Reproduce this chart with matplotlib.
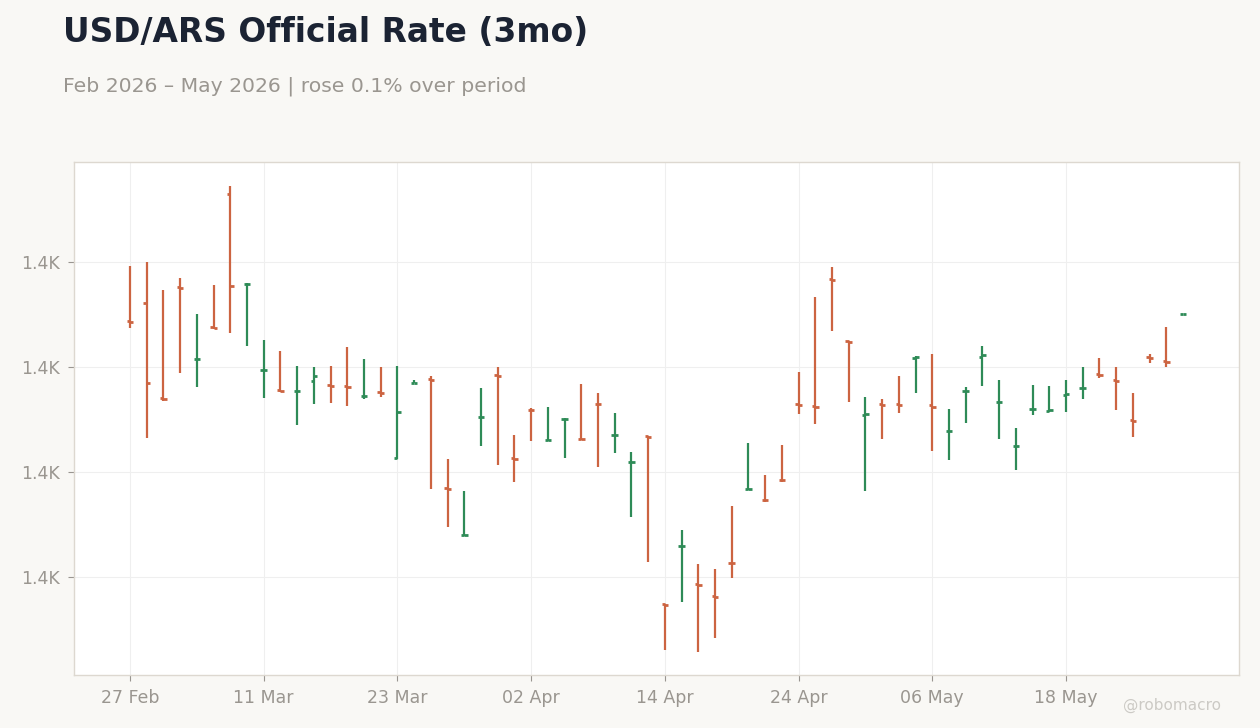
import matplotlib
matplotlib.use("Agg")
import matplotlib.pyplot as plt
from matplotlib.ticker import FuncFormatter, FixedLocator
import pandas as pd
import numpy as np

# ---- data (business days from 27 Feb 2026) ----
dates = pd.bdate_range("2026-02-27", periods=64)

opens = [1428.76, 1432.25, 1414.10, 1435.14, 1421.47, 1427.52, 1453.01, 1435.71,
         1419.43, 1415.52, 1415.40, 1417.39, 1416.63, 1416.29, 1414.48, 1415.14,
         1402.72, 1416.95, 1417.62, 1396.86, 1388.00, 1410.48, 1418.38, 1402.57,
         1411.87, 1406.04, 1410.00, 1406.34, 1412.95, 1407.01, 1401.81, 1406.76,
         1374.76, 1385.90, 1378.57, 1376.29, 1382.67, 1396.72, 1394.72, 1398.53,
         1412.86, 1412.48, 1436.67, 1424.86, 1410.91, 1412.86, 1412.91, 1421.71,
         1412.76, 1407.71, 1415.37, 1421.96, 1413.30, 1404.91, 1412.00, 1411.68,
         1414.72, 1416.00, 1418.57, 1417.47, 1409.81, 1421.81, 1421.05, 1430.15]
highs = [1439.24, 1440.00, 1434.67, 1436.95, 1430.10, 1435.62, 1454.48, 1435.94,
         1425.14, 1423.05, 1420.19, 1420.00, 1420.19, 1423.81, 1421.52, 1420.00,
         1420.19, 1417.47, 1418.29, 1402.48, 1396.38, 1416.00, 1420.06, 1407.05,
         1412.13, 1412.38, 1410.23, 1416.76, 1415.05, 1411.24, 1403.81, 1406.86,
         1374.91, 1388.95, 1382.48, 1381.52, 1393.52, 1405.52, 1399.43, 1405.14,
         1419.05, 1433.33, 1439.05, 1424.95, 1414.29, 1413.90, 1418.29, 1422.10,
         1422.48, 1412.00, 1416.19, 1424.00, 1417.52, 1408.38, 1416.57, 1416.38,
         1417.52, 1420.00, 1421.71, 1420.00, 1415.05, 1422.48, 1427.62, 1430.15]
lows = [1427.49, 1406.53, 1413.52, 1418.91, 1416.25, 1427.18, 1426.53, 1424.06,
        1414.15, 1415.30, 1409.01, 1413.01, 1413.20, 1412.63, 1413.96, 1414.34,
        1402.42, 1416.90, 1396.82, 1389.58, 1387.81, 1405.01, 1401.39, 1398.15,
        1405.96, 1405.85, 1402.72, 1406.04, 1401.01, 1403.68, 1391.49, 1382.91,
        1366.15, 1375.30, 1365.77, 1368.44, 1379.87, 1396.51, 1394.34, 1398.15,
        1411.10, 1409.20, 1426.91, 1413.39, 1396.44, 1406.34, 1411.30, 1415.10,
        1404.06, 1402.34, 1409.39, 1416.44, 1406.34, 1400.44, 1410.91, 1411.49,
        1411.49, 1413.96, 1417.96, 1411.87, 1406.72, 1420.82, 1420.06, 1430.15]
closes = [1428.57, 1417.01, 1413.90, 1435.05, 1421.52, 1427.43, 1435.43, 1435.81,
          1419.49, 1415.43, 1415.49, 1418.34, 1416.44, 1416.19, 1414.53, 1415.05,
          1411.49, 1417.01, 1417.52, 1396.76, 1388.06, 1410.53, 1418.29, 1402.48,
          1411.75, 1406.10, 1410.06, 1406.29, 1412.86, 1407.05, 1401.85, 1406.67,
          1374.67, 1385.96, 1378.48, 1376.19, 1382.57, 1396.76, 1394.63, 1398.44,
          1412.76, 1412.38, 1436.57, 1424.76, 1411.10, 1412.76, 1412.82, 1421.96,
          1412.44, 1407.81, 1415.43, 1422.23, 1413.33, 1404.95, 1412.06, 1411.77,
          1414.86, 1416.06, 1418.48, 1417.28, 1409.71, 1421.71, 1420.95, 1430.15]

y_ticks = [1380, 1400, 1420, 1440]
x_tick_idx = [0, 8, 16, 24, 32, 40, 48, 56]

# ---- style ----
BG = "#f9f8f5"
UP = "#2e8b57"
DOWN = "#cc6441"
TXT = "#9a9690"

fig = plt.figure(figsize=(12.6, 7.28), dpi=100, facecolor=BG)
ax = fig.add_axes([74/1260, 53/728, (1239-74)/1260, (675-162)/728])
ax.set_facecolor("white")

x = np.arange(len(dates))
o = np.array(opens); h = np.array(highs); l = np.array(lows); c = np.array(closes)
colors = [UP if ci >= oi else DOWN for oi, ci in zip(o, c)]
tw = 0.2
ax.vlines(x, l, h, colors=colors, linewidth=1.6, zorder=3)
ax.hlines(o, x - tw, x, colors=colors, linewidth=2.0, zorder=3)
ax.hlines(c, x, x + tw, colors=colors, linewidth=2.0, zorder=3)

ax.set_xlim(-3.35, 66.35)
ax.set_ylim(1361.3, 1459.05)

ax.xaxis.set_major_locator(FixedLocator(x_tick_idx))
ax.set_xticklabels([dates[i].strftime("%d %b") for i in x_tick_idx])
ax.yaxis.set_major_locator(FixedLocator(y_ticks))
ax.yaxis.set_major_formatter(FuncFormatter(lambda v, p: f"{v/1000:.1f}K"))

ax.grid(True, color="#efefef", linewidth=0.8, zorder=0)
ax.set_axisbelow(True)
for s in ax.spines.values():
    s.set_color("#ddd8d0")
    s.set_linewidth(1.0)
ax.tick_params(axis="both", colors="#999590", labelcolor=TXT, labelsize=12.5,
               length=4, width=0.8, pad=6)

fig.text(0.05, 1 - 42/728, "USD/ARS Official Rate (3mo)", fontsize=23.7,
         fontweight="bold", color="#1b2333", va="baseline", ha="left")
fig.text(0.05, 1 - 92/728, "Feb 2026 \u2013 May 2026 | rose 0.1% over period",
         fontsize=14.65, color="#9a9690", va="baseline", ha="left")
fig.text(1221/1260, 1 - 705/728, "@robomacro", fontsize=11, color="#cccac5",
         va="center", ha="right")

fig.savefig("out.png", dpi=100, facecolor=BG)
